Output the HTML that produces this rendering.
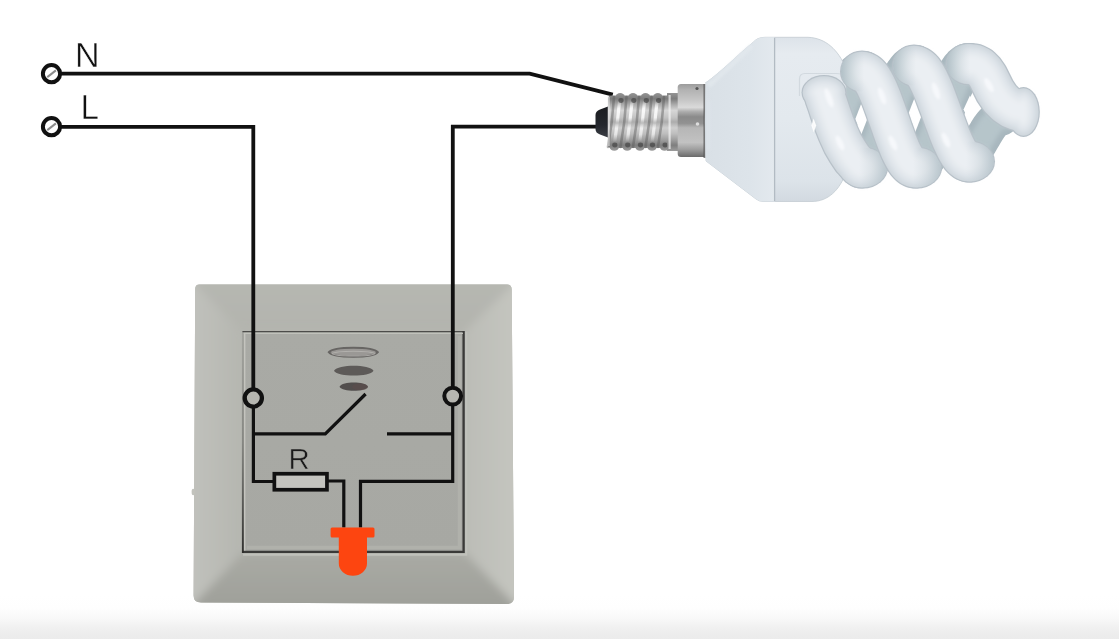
<!DOCTYPE html>
<html><head><meta charset="utf-8">
<style>
html,body{margin:0;padding:0;background:#fff;}
body{width:1119px;height:639px;overflow:hidden;position:relative;font-family:"Liberation Sans",sans-serif;}
svg{position:absolute;left:0;top:0;}
</style></head>
<body>
<svg width="1119" height="639" viewBox="0 0 1119 639">
<defs>
  <linearGradient id="floor" x1="0" y1="0" x2="0" y2="1">
    <stop offset="0" stop-color="#ffffff"/>
    <stop offset="0.3" stop-color="#fefefe"/>
    <stop offset="0.52" stop-color="#f9f9f9"/>
    <stop offset="0.72" stop-color="#f1f1f1"/>
    <stop offset="0.88" stop-color="#ededed"/>
    <stop offset="1" stop-color="#ebebeb"/>
  </linearGradient>
  <linearGradient id="bevTop" x1="0" y1="0" x2="0" y2="1">
    <stop offset="0" stop-color="#b7b8b2"/>
    <stop offset="1" stop-color="#b3b4ae"/>
  </linearGradient>
  <linearGradient id="bevRight" x1="0" y1="0" x2="1" y2="0">
    <stop offset="0" stop-color="#bcbdb7"/>
    <stop offset="1" stop-color="#c6c7c1"/>
  </linearGradient>
  <linearGradient id="bevBot" x1="0" y1="0" x2="0" y2="1">
    <stop offset="0" stop-color="#a9aaa4"/>
    <stop offset="1" stop-color="#9d9e98"/>
  </linearGradient>
  <linearGradient id="bevLeft" x1="0" y1="0" x2="1" y2="0">
    <stop offset="0" stop-color="#c3c4bf"/>
    <stop offset="1" stop-color="#b5b6b0"/>
  </linearGradient>
  <linearGradient id="face" x1="0" y1="0" x2="0" y2="1">
    <stop offset="0" stop-color="#a9aaa5"/>
    <stop offset="1" stop-color="#a7a8a3"/>
  </linearGradient>
  <clipPath id="plateClip"><path d="M199.5,284.4 L507.2,284.4 Q511.6,284.4 511.7,289.5 L514,596.5 Q514.1,604 506.5,604 L201,602.6 Q193.6,602.5 193.6,595.5 L195.2,288.8 Q195.3,284.4 199.5,284.4 Z"/></clipPath>
  <filter id="blP" filterUnits="userSpaceOnUse" x="150" y="250" width="420" height="400"><feGaussianBlur stdDeviation="4.5"/></filter>
  <linearGradient id="screw" x1="0" y1="0" x2="0" y2="1">
    <stop offset="0" stop-color="#949494"/>
    <stop offset="0.1" stop-color="#7c7c7c"/>
    <stop offset="0.2" stop-color="#ababab"/>
    <stop offset="0.3" stop-color="#d6d6d6"/>
    <stop offset="0.42" stop-color="#c4c4c4"/>
    <stop offset="0.5" stop-color="#acacac"/>
    <stop offset="0.6" stop-color="#cecece"/>
    <stop offset="0.7" stop-color="#bebebe"/>
    <stop offset="0.82" stop-color="#9a9a9a"/>
    <stop offset="0.9" stop-color="#7e7e7e"/>
    <stop offset="1" stop-color="#9c9c9c"/>
  </linearGradient>
  <linearGradient id="screwU" gradientUnits="userSpaceOnUse" x1="0" y1="93" x2="0" y2="151">
    <stop offset="0" stop-color="#949494"/>
    <stop offset="0.1" stop-color="#7c7c7c"/>
    <stop offset="0.2" stop-color="#ababab"/>
    <stop offset="0.3" stop-color="#d6d6d6"/>
    <stop offset="0.42" stop-color="#c4c4c4"/>
    <stop offset="0.5" stop-color="#acacac"/>
    <stop offset="0.6" stop-color="#cecece"/>
    <stop offset="0.7" stop-color="#bebebe"/>
    <stop offset="0.82" stop-color="#9a9a9a"/>
    <stop offset="0.9" stop-color="#7e7e7e"/>
    <stop offset="1" stop-color="#9c9c9c"/>
  </linearGradient>
  <linearGradient id="thrG" x1="0" y1="0" x2="1" y2="0">
    <stop offset="0" stop-color="#505050" stop-opacity="0.6"/>
    <stop offset="0.25" stop-color="#909090" stop-opacity="0.1"/>
    <stop offset="0.5" stop-color="#ffffff" stop-opacity="0.55"/>
    <stop offset="0.75" stop-color="#909090" stop-opacity="0.1"/>
    <stop offset="1" stop-color="#505050" stop-opacity="0.6"/>
  </linearGradient>
  <pattern id="thr" patternUnits="userSpaceOnUse" x="608.5" y="0" width="12.6" height="200" patternTransform="skewX(6)">
    <rect x="0" y="0" width="12.6" height="200" fill="url(#thrG)"/>
  </pattern>
  <linearGradient id="tipG" x1="0" y1="0" x2="0" y2="1">
    <stop offset="0" stop-color="#1a1c20"/>
    <stop offset="0.6" stop-color="#24272d"/>
    <stop offset="1" stop-color="#3a3d44"/>
  </linearGradient>
  <linearGradient id="collar" x1="0" y1="0" x2="0" y2="1">
    <stop offset="0" stop-color="#9c9c9c"/>
    <stop offset="0.08" stop-color="#b2b2b2"/>
    <stop offset="0.22" stop-color="#c6c6c6"/>
    <stop offset="0.32" stop-color="#dadada"/>
    <stop offset="0.38" stop-color="#acacac"/>
    <stop offset="0.45" stop-color="#8a8a8a"/>
    <stop offset="0.54" stop-color="#929292"/>
    <stop offset="0.6" stop-color="#b6b6b6"/>
    <stop offset="0.8" stop-color="#c2c2c2"/>
    <stop offset="0.9" stop-color="#9c9c9c"/>
    <stop offset="1" stop-color="#6a6a6a"/>
  </linearGradient>
  <linearGradient id="body" x1="0" y1="0" x2="0" y2="1">
    <stop offset="0" stop-color="#dde3e9"/>
    <stop offset="0.1" stop-color="#e6ebf0"/>
    <stop offset="0.5" stop-color="#e3e9ee"/>
    <stop offset="0.88" stop-color="#dce3e9"/>
    <stop offset="1" stop-color="#d2d9e0"/>
  </linearGradient>
  <linearGradient id="cone" x1="0" y1="0" x2="1" y2="0">
    <stop offset="0" stop-color="#d9e0e6"/>
    <stop offset="0.65" stop-color="#dde4ea"/>
    <stop offset="1" stop-color="#e3e9ee"/>
  </linearGradient>
  <linearGradient id="tube" gradientUnits="objectBoundingBox" x1="0" y1="0" x2="1" y2="0">
    <stop offset="0" stop-color="#d6dde3"/>
    <stop offset="0.35" stop-color="#f4f6f8"/>
    <stop offset="0.7" stop-color="#fafbfc"/>
    <stop offset="1" stop-color="#d8dfe5"/>
  </linearGradient>
  <filter id="bl2" filterUnits="userSpaceOnUse" x="600" y="0" width="519" height="260"><feGaussianBlur stdDeviation="2"/></filter>
  <clipPath id="clipA"><rect x="790" y="79" width="120" height="130"/></clipPath>
<!--HOV-->
<linearGradient id="ht0" gradientUnits="userSpaceOnUse" x1="888.0" y1="0" x2="859" y2="0"><stop offset="0" stop-color="#b4c2c9" stop-opacity="0.8"/><stop offset="1" stop-color="#c8d2d8" stop-opacity="0"/></linearGradient>
<linearGradient id="ht1" gradientUnits="userSpaceOnUse" x1="840.0" y1="0" x2="864" y2="0"><stop offset="0" stop-color="#aebdc4" stop-opacity="0.95"/><stop offset="0.45" stop-color="#bccacf" stop-opacity="0.55"/><stop offset="1" stop-color="#c8d2d8" stop-opacity="0"/></linearGradient>
<linearGradient id="ht2" gradientUnits="userSpaceOnUse" x1="942.0" y1="0" x2="913" y2="0"><stop offset="0" stop-color="#b4c2c9" stop-opacity="0.8"/><stop offset="1" stop-color="#c8d2d8" stop-opacity="0"/></linearGradient>
<linearGradient id="ht3" gradientUnits="userSpaceOnUse" x1="892.0" y1="0" x2="916" y2="0"><stop offset="0" stop-color="#aebdc4" stop-opacity="0.95"/><stop offset="0.45" stop-color="#bccacf" stop-opacity="0.55"/><stop offset="1" stop-color="#c8d2d8" stop-opacity="0"/></linearGradient>
<linearGradient id="ht4" gradientUnits="userSpaceOnUse" x1="995.0" y1="0" x2="966" y2="0"><stop offset="0" stop-color="#b4c2c9" stop-opacity="0.8"/><stop offset="1" stop-color="#c8d2d8" stop-opacity="0"/></linearGradient>
<linearGradient id="ht5" gradientUnits="userSpaceOnUse" x1="945.5" y1="0" x2="970" y2="0"><stop offset="0" stop-color="#aebdc4" stop-opacity="0.95"/><stop offset="0.45" stop-color="#bccacf" stop-opacity="0.55"/><stop offset="1" stop-color="#c8d2d8" stop-opacity="0"/></linearGradient>
<!--/HOV-->
  <filter id="bl1" filterUnits="userSpaceOnUse" x="600" y="0" width="519" height="260"><feGaussianBlur stdDeviation="1.2"/></filter>
  <filter id="bl06" filterUnits="userSpaceOnUse" x="590" y="80" width="130" height="90"><feGaussianBlur stdDeviation="0.7"/></filter>
  <linearGradient id="hlG" gradientUnits="userSpaceOnUse" x1="0" y1="100" x2="0" y2="142">
    <stop offset="0" stop-color="#fff" stop-opacity="0"/>
    <stop offset="0.2" stop-color="#fff" stop-opacity="0.85"/>
    <stop offset="0.42" stop-color="#fff" stop-opacity="0.8"/>
    <stop offset="0.55" stop-color="#fff" stop-opacity="0.15"/>
    <stop offset="0.68" stop-color="#fff" stop-opacity="0.7"/>
    <stop offset="0.82" stop-color="#fff" stop-opacity="0.6"/>
    <stop offset="1" stop-color="#fff" stop-opacity="0"/>
  </linearGradient>
  <filter id="noop" filterUnits="userSpaceOnUse" x="0" y="0" width="1119" height="639"><feOffset dx="0" dy="0"/></filter>
  <linearGradient id="lbord" x1="0" y1="0" x2="0" y2="1">
    <stop offset="0" stop-color="#3a3a38" stop-opacity="0.1"/>
    <stop offset="0.5" stop-color="#3a3a38" stop-opacity="0.35"/>
    <stop offset="1" stop-color="#2a2a28" stop-opacity="0.95"/>
  </linearGradient>
</defs>

<!-- floor gradient -->
<rect x="0" y="595" width="1119" height="44" fill="url(#floor)"/>

<!-- ===== SWITCH PLATE ===== -->
<g>
  <path d="M199.5,284.4 L507.2,284.4 Q511.6,284.4 511.7,289.5 L514,596.5 Q514.1,604 506.5,604 L201,602.6 Q193.6,602.5 193.6,595.5 L195.2,288.8 Q195.3,284.4 199.5,284.4 Z" fill="#b6b7b1"/>
  <g clip-path="url(#plateClip)"><g filter="url(#blP)">
  <polygon points="180,270 528,270 465,331 242.5,331" fill="url(#bevTop)"/>
  <polygon points="528,270 528,618 465,553 465,331" fill="url(#bevRight)"/>
  <polygon points="180,618 528,618 465,553 242.5,553" fill="url(#bevBot)"/>
  <polygon points="180,270 180,618 242.5,553 242.5,331" fill="url(#bevLeft)"/>
  </g></g>
  <rect x="242.5" y="331" width="222.5" height="222" fill="url(#face)"/>
  <path d="M466.3,332 V554.8 H243" fill="none" stroke="#c0c1bb" stroke-width="2"/>
  <path d="M242.5,331.6 H463.6" fill="none" stroke="#4c4c4a" stroke-width="1.4"/>
  <path d="M463.6,331 V551.8 H242.5" fill="none" stroke="#3a3a38" stroke-width="2.3"/>
  <path d="M459.5,336 V547.5 H247" fill="none" stroke="#b0b1ab" stroke-width="3.5"/>
  <path d="M243.5,333.4 H463" fill="none" stroke="#c0c1bb" stroke-width="1.1"/>
  <path d="M244.6,333 V550.5" stroke="#c4c4be" stroke-width="1.6"/>
  <rect x="241.9" y="331" width="1.9" height="222" fill="url(#lbord)"/>
</g>

<ellipse cx="193.2" cy="492" rx="1.6" ry="3.2" fill="#c2c3bd"/>
<!-- ===== WIRES ===== -->
<g fill="none" stroke="#111" stroke-width="3.8" stroke-linejoin="miter">
  <path d="M61,73.6 H529.7 L612.8,94.6"/>
  <path d="M61,126.8 H253.3 V389"/>
  <path d="M596,126.7 H452.8 V386.5"/>
</g>
<g fill="none" stroke="#111" stroke-width="3.2" stroke-linejoin="miter">
  <path d="M253.4,406.5 V481.5 H273"/>
  <path d="M452.7,404 V481.3 H360.5 V527.5"/>
  <path d="M328,481 H343.8 V527.5"/>
  <path d="M253.4,433.8 H325.3 L365.6,394"/>
  <path d="M387,433.8 H452.7"/>
</g>

<!-- terminals on plate -->
<circle cx="253.3" cy="398" r="8.6" fill="#b6b6b0" stroke="#111" stroke-width="4.3"/>
<circle cx="452.7" cy="396.1" r="8.4" fill="#b6b6b0" stroke="#111" stroke-width="4"/>

<!-- resistor -->
<rect x="274.35" y="473.75" width="52.6" height="16" fill="#c4c4bf" stroke="#111" stroke-width="3.7"/>
<text filter="url(#noop)" x="288.5" y="468.6" font-family="Liberation Sans" font-size="29.4" fill="#1a1a1a" stroke="#a8a9a4" stroke-width="0.5">R</text>

<!-- ellipses -->
<path d="M328.8,352.2 C333.7,346.1 372.9,346.1 377.8,352.2 C372.9,358.3 333.7,358.3 328.8,352.2 Z" fill="#9a9895" stroke="#676563" stroke-width="2"/>
<path d="M332,353.6 C336.3,350.4 370.7,350.4 375,353.6 C370.7,356.8 336.3,356.8 332,353.6 Z" fill="none" stroke="#b8b6b3" stroke-width="1.1" opacity="0.8"/>
<path d="M334,370.7 C337.9,364.2 369.6,364.2 373.5,370.7 C369.6,377.2 337.9,377.2 334,370.7 Z" fill="#5d5a58"/>
<path d="M339.5,386.7 C342.4,381.2 365.1,381.2 368,386.7 C365.1,392.2 342.4,392.2 339.5,386.7 Z" fill="#524e4d"/>
<path d="M352,386.9 C353.6,382.5 366.4,382.5 368,386.9 C366.4,391.3 353.6,391.3 352,386.9 Z" fill="#5e4c4c" opacity="0.6"/>
<!-- LED -->
<path d="M332,527.5 H373 Q374.5,527.5 374.5,529 V536 Q374.5,537.5 373,537.5 H367 V563.5 A14.1 12.2 0 0 1 338.8,563.5 V537.5 H332 Q330.6,537.5 330.6,536 V529 Q330.6,527.5 332,527.5 Z" fill="#fd4510"/>

<!-- supply terminals -->
<circle cx="51.5" cy="73.7" r="8.6" fill="#fff" stroke="#111" stroke-width="4"/>
<line x1="47.3" y1="77.1" x2="55.9" y2="70.4" stroke="#8c8c8c" stroke-width="2"/>
<circle cx="51.5" cy="126.7" r="8.6" fill="#fff" stroke="#111" stroke-width="4"/>
<line x1="47.3" y1="130.1" x2="55.9" y2="123.4" stroke="#8c8c8c" stroke-width="2"/>

<text filter="url(#noop)" x="75" y="66.7" font-family="Liberation Sans" font-size="35.6" fill="#111" stroke="#fff" stroke-width="0.5" transform="translate(75 0) scale(0.96 1) translate(-75 0)">N</text>
<text filter="url(#noop)" x="80.6" y="118.6" font-family="Liberation Sans" font-size="35" fill="#111" stroke="#fff" stroke-width="0.5" transform="translate(80.6 0) scale(0.95 1) translate(-80.6 0)">L</text>

<!-- ===== BULB ===== -->
<g>
  <!-- black tip -->
  <path d="M608,106.5 L600,109.5 Q595.5,111 595.5,115 V129 Q595.5,133 600,134.5 L608,137.5 Z" fill="url(#tipG)"/>
  <!-- screw -->
  <g>
    <path d="M608,99 Q608,95.5 611,95.5 H668 V148 H611 Q608,148 608,145 Z" fill="url(#screwU)"/>
    <g fill="url(#screwU)">
      <ellipse cx="620.2" cy="97" rx="4.6" ry="3.9"/>
      <ellipse cx="633" cy="97" rx="4.6" ry="3.9"/>
      <ellipse cx="645.5" cy="97" rx="4.6" ry="3.9"/>
      <ellipse cx="657.8" cy="97" rx="4.6" ry="3.9"/>
      <ellipse cx="614.3" cy="147" rx="4.6" ry="3.8"/>
      <ellipse cx="627.2" cy="147" rx="4.6" ry="3.8"/>
      <ellipse cx="640" cy="147" rx="4.6" ry="3.8"/>
      <ellipse cx="652" cy="147" rx="4.6" ry="3.8"/>
      <ellipse cx="664.6" cy="147" rx="4.6" ry="3.8"/>
    </g>
    <g stroke-linecap="round" fill="none">
      <path d="M614.0,97 Q612.5,122 608.0,147" stroke="#5c5c5c" stroke-width="2.6" opacity="0.45"/>
      <path d="M626.5,97 Q625.0,122 620.5,147" stroke="#5c5c5c" stroke-width="2.6" opacity="0.45"/>
      <path d="M619.7,100 Q617.7,121 614.7,142" stroke="url(#hlG)" stroke-width="3.2" filter="url(#bl06)"/>
      <path d="M639.0,97 Q637.5,122 633.0,147" stroke="#5c5c5c" stroke-width="2.6" opacity="0.45"/>
      <path d="M632.2,100 Q630.2,121 627.2,142" stroke="url(#hlG)" stroke-width="3.2" filter="url(#bl06)"/>
      <path d="M651.5,97 Q650.0,122 645.5,147" stroke="#5c5c5c" stroke-width="2.6" opacity="0.45"/>
      <path d="M644.7,100 Q642.7,121 639.7,142" stroke="url(#hlG)" stroke-width="3.2" filter="url(#bl06)"/>
      <path d="M664.0,97 Q662.5,122 658.0,147" stroke="#5c5c5c" stroke-width="2.6" opacity="0.45"/>
      <path d="M657.2,100 Q655.2,121 652.2,142" stroke="url(#hlG)" stroke-width="3.2" filter="url(#bl06)"/>
    </g>
    <g fill="#3a3a3a" opacity="0.6" filter="url(#bl06)">
      <ellipse cx="621.0" cy="100.5" rx="2.6" ry="2.4"/>
      <ellipse cx="633.8" cy="100.5" rx="2.6" ry="2.4"/>
      <ellipse cx="646.3" cy="100.5" rx="2.6" ry="2.4"/>
      <ellipse cx="658.6" cy="100.5" rx="2.6" ry="2.4"/>
      <ellipse cx="614.8" cy="145" rx="2.6" ry="2.4"/>
      <ellipse cx="627.7" cy="145" rx="2.6" ry="2.4"/>
      <ellipse cx="640.5" cy="145" rx="2.6" ry="2.4"/>
      <ellipse cx="652.5" cy="145" rx="2.6" ry="2.4"/>
      <ellipse cx="665.1" cy="145" rx="2.6" ry="2.4"/>
    </g>
    <rect x="607.6" y="97" width="2.2" height="49" fill="#e8e8e8" opacity="0.6"/>
  </g>
  <!-- neck -->
  <rect x="667" y="93" width="11.5" height="58" fill="url(#screwU)"/>
  <rect x="668.5" y="95" width="2.2" height="54" fill="#f2f2f2" opacity="0.7"/>
  <!-- collar -->
  <path d="M681,84 H704.5 V157 H681 Q677.7,157 677.7,153.5 V87.5 Q677.7,84 681,84 Z" fill="url(#collar)"/>
  <circle cx="697" cy="88.5" r="1.6" fill="#555"/>
  <circle cx="697.5" cy="124" r="1.8" fill="#ddd"/>
  <rect x="703.5" y="84" width="2" height="74" fill="#4a4a4a" opacity="0.7"/>
<!--SPB-->
<g fill="none" stroke-linecap="round" stroke-linejoin="round">
<path d="M812.0,166.0 L813.8,165.7 L815.6,164.8 L817.5,163.4 L819.3,161.3 L821.1,158.8 L822.9,155.7 L824.8,152.2 L826.6,148.3 L828.4,144.0 L830.2,139.4 L832.0,134.5 L833.9,129.5 L835.7,124.3 L837.5,119.0 L839.3,113.7 L841.1,108.5 L843.0,103.5 L844.8,98.6 L846.6,94.0 L848.4,89.7 L850.2,85.8 L852.1,82.3 L853.9,79.2 L855.7,76.7 L857.5,74.6 L859.4,73.2 L861.2,72.3 L863.0,72.0" stroke="#a8b7be" stroke-width="42"/>
<path d="M812.0,166.0 L813.8,165.7 L815.6,164.8 L817.5,163.4 L819.3,161.3 L821.1,158.8 L822.9,155.7 L824.8,152.2 L826.6,148.3 L828.4,144.0 L830.2,139.4 L832.0,134.5 L833.9,129.5 L835.7,124.3 L837.5,119.0 L839.3,113.7 L841.1,108.5 L843.0,103.5 L844.8,98.6 L846.6,94.0 L848.4,89.7 L850.2,85.8 L852.1,82.3 L853.9,79.2 L855.7,76.7 L857.5,74.6 L859.4,73.2 L861.2,72.3 L863.0,72.0" stroke="#b6c5ca" stroke-width="30" filter="url(#bl2)"/>
<path d="M861.0,166.0 L862.9,165.7 L864.9,164.7 L866.8,163.2 L868.7,161.0 L870.6,158.3 L872.6,155.1 L874.5,151.4 L876.4,147.2 L878.4,142.6 L880.3,137.7 L882.2,132.5 L884.1,127.1 L886.1,121.6 L888.0,116.0 L889.9,110.4 L891.9,104.9 L893.8,99.5 L895.7,94.3 L897.6,89.4 L899.6,84.8 L901.5,80.6 L903.4,76.9 L905.4,73.7 L907.3,71.0 L909.2,68.8 L911.1,67.3 L913.1,66.3 L915.0,66.0" stroke="#a8b7be" stroke-width="42"/>
<path d="M861.0,166.0 L862.9,165.7 L864.9,164.7 L866.8,163.2 L868.7,161.0 L870.6,158.3 L872.6,155.1 L874.5,151.4 L876.4,147.2 L878.4,142.6 L880.3,137.7 L882.2,132.5 L884.1,127.1 L886.1,121.6 L888.0,116.0 L889.9,110.4 L891.9,104.9 L893.8,99.5 L895.7,94.3 L897.6,89.4 L899.6,84.8 L901.5,80.6 L903.4,76.9 L905.4,73.7 L907.3,71.0 L909.2,68.8 L911.1,67.3 L913.1,66.3 L915.0,66.0" stroke="#b6c5ca" stroke-width="30" filter="url(#bl2)"/>
<path d="M915.0,166.0 L916.9,165.7 L918.9,164.7 L920.8,163.1 L922.7,160.9 L924.6,158.2 L926.6,154.9 L928.5,151.1 L930.4,146.8 L932.4,142.1 L934.3,137.1 L936.2,131.8 L938.1,126.3 L940.1,120.7 L942.0,115.0 L943.9,109.3 L945.9,103.7 L947.8,98.2 L949.7,92.9 L951.6,87.9 L953.6,83.2 L955.5,78.9 L957.4,75.1 L959.4,71.8 L961.3,69.1 L963.2,66.9 L965.1,65.3 L967.1,64.3 L969.0,64.0" stroke="#a8b7be" stroke-width="42"/>
<path d="M915.0,166.0 L916.9,165.7 L918.9,164.7 L920.8,163.1 L922.7,160.9 L924.6,158.2 L926.6,154.9 L928.5,151.1 L930.4,146.8 L932.4,142.1 L934.3,137.1 L936.2,131.8 L938.1,126.3 L940.1,120.7 L942.0,115.0 L943.9,109.3 L945.9,103.7 L947.8,98.2 L949.7,92.9 L951.6,87.9 L953.6,83.2 L955.5,78.9 L957.4,75.1 L959.4,71.8 L961.3,69.1 L963.2,66.9 L965.1,65.3 L967.1,64.3 L969.0,64.0" stroke="#b6c5ca" stroke-width="30" filter="url(#bl2)"/>
<path d="M963.0,160.0 L964.4,159.9 L965.7,159.5 L967.1,158.8 L968.4,157.9 L969.8,156.8 L971.1,155.4 L972.5,153.8 L973.9,152.1 L975.2,150.2 L976.6,148.1 L977.9,145.9 L979.3,143.7 L980.6,141.4 L982.0,139.0 L983.4,136.6 L984.7,134.3 L986.1,132.1 L987.4,129.9 L988.8,127.8 L990.1,125.9 L991.5,124.2 L992.9,122.6 L994.2,121.2 L995.6,120.1 L996.9,119.2 L998.3,118.5 L999.6,118.1 L1001.0,118.0" stroke="#a8b7be" stroke-width="36"/>
<path d="M963.0,160.0 L964.4,159.9 L965.7,159.5 L967.1,158.8 L968.4,157.9 L969.8,156.8 L971.1,155.4 L972.5,153.8 L973.9,152.1 L975.2,150.2 L976.6,148.1 L977.9,145.9 L979.3,143.7 L980.6,141.4 L982.0,139.0 L983.4,136.6 L984.7,134.3 L986.1,132.1 L987.4,129.9 L988.8,127.8 L990.1,125.9 L991.5,124.2 L992.9,122.6 L994.2,121.2 L995.6,120.1 L996.9,119.2 L998.3,118.5 L999.6,118.1 L1001.0,118.0" stroke="#b6c5ca" stroke-width="24" filter="url(#bl2)"/>
</g>
<polygon points="861.3,103.5 867.3,119 861.3,134.5 855.3,119" fill="#ffffff"/>
<polygon points="914.5,98 921.5,116 914.5,134 907.5,116" fill="#ffffff"/>
<polygon points="970,95.5 976.5,109.5 970,123.5 963.5,109.5" fill="#ffffff"/>
<!--/SPB-->
  <!-- body -->
  <path d="M706,82.5 C712,78.5 722,70 733,60 C741,52.5 748,46.5 753,42.5 Q757,37.3 765,37.3 L808,37.3 C826,38 838,50 846,68 L846,172 C840,190 828,201.5 812,201.5 L764,201.5 Q759,201.5 756,199 L706,161 Q704.6,121.5 706,82 Z" fill="url(#body)" stroke="#c3cbd2" stroke-width="0.8"/>
  <path d="M706,82.5 C712,78.5 722,70 733,60 C741,52.5 748,46.5 753,42.5 Q757,37.3 765,37.3 L774.5,37.3 L774.5,201.5 L764,201.5 Q759,201.5 756,199 L706,161 Q704.6,121.5 706,82 Z" fill="url(#cone)"/>
  <path d="M708.5,86 C714,81 724,72 734,62.5 C741,56 747,50 752,46" fill="none" stroke="#e3e9ee" stroke-width="5" opacity="0.7" filter="url(#bl1)"/>
  <path d="M708.5,100 V150" fill="none" stroke="#e0e6eb" stroke-width="3" opacity="0.6" filter="url(#bl1)"/>
  <line x1="774.6" y1="37.8" x2="774.6" y2="201" stroke="#b2bbc3" stroke-width="1.3"/>
  <path d="M799.5,96 V79 Q799.5,73.5 805,73.5 L836,73.5 Q842,73.5 845,76" fill="none" stroke="#d2d9df" stroke-width="1.2"/>
<!--SPF-->
<g>
<path d="M825.0,97.0 L827.5,104.0 L830.5,113.0 L834.0,123.0 L838.0,133.0 L842.5,143.0 L847.5,151.5 L852.5,159.0 L857.0,164.0 L861.0,167.5" fill="none" stroke="#b2bcc4" stroke-width="42" stroke-linecap="round" stroke-linejoin="round"/>
<ellipse cx="824" cy="92.5" rx="22.5" ry="17.5" fill="#b2bcc4"/>
<ellipse cx="863" cy="167.5" rx="25.0" ry="21.0" fill="#b2bcc4"/>
<path d="M825.0,97.0 L827.5,104.0 L830.5,113.0 L834.0,123.0 L838.0,133.0 L842.5,143.0 L847.5,151.5 L852.5,159.0 L857.0,164.0 L861.0,167.5" fill="none" stroke="#cdd5db" stroke-width="39.5" stroke-linecap="round" stroke-linejoin="round"/>
<ellipse cx="824" cy="92.5" rx="21.25" ry="16.25" fill="#cdd5db"/>
<ellipse cx="863" cy="167.5" rx="23.75" ry="19.75" fill="#cdd5db"/>
<g filter="url(#bl2)">
<path d="M825.0,97.0 L827.5,104.0 L830.5,113.0 L834.0,123.0 L838.0,133.0 L842.5,143.0 L847.5,151.5 L852.5,159.0 L857.0,164.0 L861.0,167.5" fill="none" stroke="#d9e0e6" stroke-width="36" stroke-linecap="round" stroke-linejoin="round"/>
<ellipse cx="824" cy="92.5" rx="19.5" ry="14.5" fill="#d9e0e6"/>
<ellipse cx="863" cy="167.5" rx="22.0" ry="18.0" fill="#d9e0e6"/>
<path d="M825.0,97.0 L827.5,104.0 L830.5,113.0 L834.0,123.0 L838.0,133.0 L842.5,143.0 L847.5,151.5 L852.5,159.0 L857.0,164.0 L861.0,167.5" fill="none" stroke="#e3e8ed" stroke-width="28" stroke-linecap="round" stroke-linejoin="round"/>
<ellipse cx="824" cy="92.5" rx="15.5" ry="10.5" fill="#e3e8ed"/>
<ellipse cx="863" cy="167.5" rx="18.0" ry="14.0" fill="#e3e8ed"/>
<path d="M825.0,97.0 L827.5,104.0 L830.5,113.0 L834.0,123.0 L838.0,133.0 L842.5,143.0 L847.5,151.5 L852.5,159.0 L857.0,164.0 L861.0,167.5" fill="none" stroke="#ebeff3" stroke-width="18" stroke-linecap="round" stroke-linejoin="round"/>
<ellipse cx="824" cy="92.5" rx="10.5" ry="5.5" fill="#ebeff3"/>
<ellipse cx="863" cy="167.5" rx="13.0" ry="9.0" fill="#ebeff3"/>
</g></g>
<ellipse cx="863" cy="167.5" rx="24.0" ry="20.0" fill="url(#ht0)"/>
<g>
<path d="M863.0,72.0 L864.9,72.3 L866.7,73.2 L868.6,74.7 L870.4,76.7 L872.3,79.3 L874.1,82.4 L876.0,86.0 L877.9,90.0 L879.7,94.3 L881.6,99.0 L883.4,104.0 L885.3,109.1 L887.1,114.4 L889.0,119.8 L890.9,125.1 L892.7,130.4 L894.6,135.5 L896.4,140.5 L898.3,145.2 L900.1,149.5 L902.0,153.5 L903.9,157.1 L905.7,160.2 L907.6,162.8 L909.4,164.8 L911.3,166.3 L913.1,167.2 L915.0,167.5" fill="none" stroke="#b2bcc4" stroke-width="42" stroke-linecap="round" stroke-linejoin="round"/>
<ellipse cx="862" cy="71.5" rx="22.0" ry="21.0" fill="#b2bcc4"/>
<ellipse cx="917" cy="167.5" rx="25.0" ry="21.0" fill="#b2bcc4"/>
<path d="M863.0,72.0 L864.9,72.3 L866.7,73.2 L868.6,74.7 L870.4,76.7 L872.3,79.3 L874.1,82.4 L876.0,86.0 L877.9,90.0 L879.7,94.3 L881.6,99.0 L883.4,104.0 L885.3,109.1 L887.1,114.4 L889.0,119.8 L890.9,125.1 L892.7,130.4 L894.6,135.5 L896.4,140.5 L898.3,145.2 L900.1,149.5 L902.0,153.5 L903.9,157.1 L905.7,160.2 L907.6,162.8 L909.4,164.8 L911.3,166.3 L913.1,167.2 L915.0,167.5" fill="none" stroke="#cdd5db" stroke-width="39.5" stroke-linecap="round" stroke-linejoin="round"/>
<ellipse cx="862" cy="71.5" rx="20.75" ry="19.75" fill="#cdd5db"/>
<ellipse cx="917" cy="167.5" rx="23.75" ry="19.75" fill="#cdd5db"/>
<g filter="url(#bl2)">
<path d="M863.0,72.0 L864.9,72.3 L866.7,73.2 L868.6,74.7 L870.4,76.7 L872.3,79.3 L874.1,82.4 L876.0,86.0 L877.9,90.0 L879.7,94.3 L881.6,99.0 L883.4,104.0 L885.3,109.1 L887.1,114.4 L889.0,119.8 L890.9,125.1 L892.7,130.4 L894.6,135.5 L896.4,140.5 L898.3,145.2 L900.1,149.5 L902.0,153.5 L903.9,157.1 L905.7,160.2 L907.6,162.8 L909.4,164.8 L911.3,166.3 L913.1,167.2 L915.0,167.5" fill="none" stroke="#d9e0e6" stroke-width="36" stroke-linecap="round" stroke-linejoin="round"/>
<ellipse cx="862" cy="71.5" rx="19.0" ry="18.0" fill="#d9e0e6"/>
<ellipse cx="917" cy="167.5" rx="22.0" ry="18.0" fill="#d9e0e6"/>
<path d="M863.0,72.0 L864.9,72.3 L866.7,73.2 L868.6,74.7 L870.4,76.7 L872.3,79.3 L874.1,82.4 L876.0,86.0 L877.9,90.0 L879.7,94.3 L881.6,99.0 L883.4,104.0 L885.3,109.1 L887.1,114.4 L889.0,119.8 L890.9,125.1 L892.7,130.4 L894.6,135.5 L896.4,140.5 L898.3,145.2 L900.1,149.5 L902.0,153.5 L903.9,157.1 L905.7,160.2 L907.6,162.8 L909.4,164.8 L911.3,166.3 L913.1,167.2 L915.0,167.5" fill="none" stroke="#e3e8ed" stroke-width="28" stroke-linecap="round" stroke-linejoin="round"/>
<ellipse cx="862" cy="71.5" rx="15.0" ry="14.0" fill="#e3e8ed"/>
<ellipse cx="917" cy="167.5" rx="18.0" ry="14.0" fill="#e3e8ed"/>
<path d="M863.0,72.0 L864.9,72.3 L866.7,73.2 L868.6,74.7 L870.4,76.7 L872.3,79.3 L874.1,82.4 L876.0,86.0 L877.9,90.0 L879.7,94.3 L881.6,99.0 L883.4,104.0 L885.3,109.1 L887.1,114.4 L889.0,119.8 L890.9,125.1 L892.7,130.4 L894.6,135.5 L896.4,140.5 L898.3,145.2 L900.1,149.5 L902.0,153.5 L903.9,157.1 L905.7,160.2 L907.6,162.8 L909.4,164.8 L911.3,166.3 L913.1,167.2 L915.0,167.5" fill="none" stroke="#ebeff3" stroke-width="18" stroke-linecap="round" stroke-linejoin="round"/>
<ellipse cx="862" cy="71.5" rx="10.0" ry="9.0" fill="#ebeff3"/>
<ellipse cx="917" cy="167.5" rx="13.0" ry="9.0" fill="#ebeff3"/>
</g></g>
<ellipse cx="862" cy="71.5" rx="21.0" ry="20.0" fill="url(#ht1)"/>
<ellipse cx="917" cy="167.5" rx="24.0" ry="20.0" fill="url(#ht2)"/>
<g>
<path d="M915.0,66.0 L916.9,66.3 L918.9,67.2 L920.8,68.7 L922.7,70.7 L924.6,73.3 L926.6,76.4 L928.5,80.0 L930.4,84.0 L932.4,88.3 L934.3,93.0 L936.2,98.0 L938.1,103.1 L940.1,108.4 L942.0,113.8 L943.9,119.1 L945.9,124.4 L947.8,129.5 L949.7,134.5 L951.6,139.2 L953.6,143.5 L955.5,147.5 L957.4,151.1 L959.4,154.2 L961.3,156.8 L963.2,158.8 L965.1,160.3 L967.1,161.2 L969.0,161.5" fill="none" stroke="#b2bcc4" stroke-width="42" stroke-linecap="round" stroke-linejoin="round"/>
<ellipse cx="914" cy="65.5" rx="22.0" ry="21.0" fill="#b2bcc4"/>
<ellipse cx="970" cy="161.5" rx="25.0" ry="21.0" fill="#b2bcc4"/>
<path d="M915.0,66.0 L916.9,66.3 L918.9,67.2 L920.8,68.7 L922.7,70.7 L924.6,73.3 L926.6,76.4 L928.5,80.0 L930.4,84.0 L932.4,88.3 L934.3,93.0 L936.2,98.0 L938.1,103.1 L940.1,108.4 L942.0,113.8 L943.9,119.1 L945.9,124.4 L947.8,129.5 L949.7,134.5 L951.6,139.2 L953.6,143.5 L955.5,147.5 L957.4,151.1 L959.4,154.2 L961.3,156.8 L963.2,158.8 L965.1,160.3 L967.1,161.2 L969.0,161.5" fill="none" stroke="#cdd5db" stroke-width="39.5" stroke-linecap="round" stroke-linejoin="round"/>
<ellipse cx="914" cy="65.5" rx="20.75" ry="19.75" fill="#cdd5db"/>
<ellipse cx="970" cy="161.5" rx="23.75" ry="19.75" fill="#cdd5db"/>
<g filter="url(#bl2)">
<path d="M915.0,66.0 L916.9,66.3 L918.9,67.2 L920.8,68.7 L922.7,70.7 L924.6,73.3 L926.6,76.4 L928.5,80.0 L930.4,84.0 L932.4,88.3 L934.3,93.0 L936.2,98.0 L938.1,103.1 L940.1,108.4 L942.0,113.8 L943.9,119.1 L945.9,124.4 L947.8,129.5 L949.7,134.5 L951.6,139.2 L953.6,143.5 L955.5,147.5 L957.4,151.1 L959.4,154.2 L961.3,156.8 L963.2,158.8 L965.1,160.3 L967.1,161.2 L969.0,161.5" fill="none" stroke="#d9e0e6" stroke-width="36" stroke-linecap="round" stroke-linejoin="round"/>
<ellipse cx="914" cy="65.5" rx="19.0" ry="18.0" fill="#d9e0e6"/>
<ellipse cx="970" cy="161.5" rx="22.0" ry="18.0" fill="#d9e0e6"/>
<path d="M915.0,66.0 L916.9,66.3 L918.9,67.2 L920.8,68.7 L922.7,70.7 L924.6,73.3 L926.6,76.4 L928.5,80.0 L930.4,84.0 L932.4,88.3 L934.3,93.0 L936.2,98.0 L938.1,103.1 L940.1,108.4 L942.0,113.8 L943.9,119.1 L945.9,124.4 L947.8,129.5 L949.7,134.5 L951.6,139.2 L953.6,143.5 L955.5,147.5 L957.4,151.1 L959.4,154.2 L961.3,156.8 L963.2,158.8 L965.1,160.3 L967.1,161.2 L969.0,161.5" fill="none" stroke="#e3e8ed" stroke-width="28" stroke-linecap="round" stroke-linejoin="round"/>
<ellipse cx="914" cy="65.5" rx="15.0" ry="14.0" fill="#e3e8ed"/>
<ellipse cx="970" cy="161.5" rx="18.0" ry="14.0" fill="#e3e8ed"/>
<path d="M915.0,66.0 L916.9,66.3 L918.9,67.2 L920.8,68.7 L922.7,70.7 L924.6,73.3 L926.6,76.4 L928.5,80.0 L930.4,84.0 L932.4,88.3 L934.3,93.0 L936.2,98.0 L938.1,103.1 L940.1,108.4 L942.0,113.8 L943.9,119.1 L945.9,124.4 L947.8,129.5 L949.7,134.5 L951.6,139.2 L953.6,143.5 L955.5,147.5 L957.4,151.1 L959.4,154.2 L961.3,156.8 L963.2,158.8 L965.1,160.3 L967.1,161.2 L969.0,161.5" fill="none" stroke="#ebeff3" stroke-width="18" stroke-linecap="round" stroke-linejoin="round"/>
<ellipse cx="914" cy="65.5" rx="10.0" ry="9.0" fill="#ebeff3"/>
<ellipse cx="970" cy="161.5" rx="13.0" ry="9.0" fill="#ebeff3"/>
</g></g>
<ellipse cx="914" cy="65.5" rx="21.0" ry="20.0" fill="url(#ht3)"/>
<ellipse cx="970" cy="161.5" rx="24.0" ry="20.0" fill="url(#ht4)"/>
<g>
<path d="M969.0,64.0 L975.0,64.5 L980.0,67.0 L984.0,71.0 L987.5,76.0 L991.0,83.0 L995.0,91.0 L1000.0,98.5 L1006.0,104.5 L1012.0,108.5 L1017.0,110.5" fill="none" stroke="#b2bcc4" stroke-width="42" stroke-linecap="round" stroke-linejoin="round"/>
<ellipse cx="968" cy="64" rx="22.5" ry="21.0" fill="#b2bcc4"/>
<ellipse cx="1023.5" cy="112" rx="16.3" ry="25" fill="#b2bcc4"/>
<path d="M969.0,64.0 L975.0,64.5 L980.0,67.0 L984.0,71.0 L987.5,76.0 L991.0,83.0 L995.0,91.0 L1000.0,98.5 L1006.0,104.5 L1012.0,108.5 L1017.0,110.5" fill="none" stroke="#cdd5db" stroke-width="39.5" stroke-linecap="round" stroke-linejoin="round"/>
<ellipse cx="968" cy="64" rx="21.25" ry="19.75" fill="#cdd5db"/>
<ellipse cx="1023.5" cy="112" rx="15.05" ry="23.75" fill="#cdd5db"/>
<g filter="url(#bl2)">
<path d="M969.0,64.0 L975.0,64.5 L980.0,67.0 L984.0,71.0 L987.5,76.0 L991.0,83.0 L995.0,91.0 L1000.0,98.5 L1006.0,104.5 L1012.0,108.5 L1017.0,110.5" fill="none" stroke="#d9e0e6" stroke-width="36" stroke-linecap="round" stroke-linejoin="round"/>
<ellipse cx="968" cy="64" rx="19.5" ry="18.0" fill="#d9e0e6"/>
<ellipse cx="1023.5" cy="112" rx="13.3" ry="22" fill="#d9e0e6"/>
<path d="M969.0,64.0 L975.0,64.5 L980.0,67.0 L984.0,71.0 L987.5,76.0 L991.0,83.0 L995.0,91.0 L1000.0,98.5 L1006.0,104.5 L1012.0,108.5 L1017.0,110.5" fill="none" stroke="#e3e8ed" stroke-width="28" stroke-linecap="round" stroke-linejoin="round"/>
<ellipse cx="968" cy="64" rx="15.5" ry="14.0" fill="#e3e8ed"/>
<ellipse cx="1023.5" cy="112" rx="9.3" ry="18" fill="#e3e8ed"/>
<path d="M969.0,64.0 L975.0,64.5 L980.0,67.0 L984.0,71.0 L987.5,76.0 L991.0,83.0 L995.0,91.0 L1000.0,98.5 L1006.0,104.5 L1012.0,108.5 L1017.0,110.5" fill="none" stroke="#ebeff3" stroke-width="18" stroke-linecap="round" stroke-linejoin="round"/>
<ellipse cx="968" cy="64" rx="10.5" ry="9.0" fill="#ebeff3"/>
<ellipse cx="1023.5" cy="112" rx="4.300000000000001" ry="13" fill="#ebeff3"/>
</g></g>
<ellipse cx="968" cy="64" rx="21.5" ry="20.0" fill="url(#ht5)"/>
<polygon points="813.6,118.5 816.2,125.5 813.8,132.5 811.4,125.5" fill="#ffffff" opacity="0.9"/>
<g fill="#f6f8fb" filter="url(#bl1)">
<ellipse cx="829" cy="98" rx="3" ry="10" transform="rotate(-20 829 98)"/>
<ellipse cx="840" cy="143" rx="3" ry="8" transform="rotate(-25 840 143)"/>
<ellipse cx="882" cy="96" rx="3" ry="9" transform="rotate(-20 882 96)"/>
<ellipse cx="893" cy="143" rx="3" ry="8" transform="rotate(-25 893 143)"/>
<ellipse cx="936" cy="91" rx="3" ry="9" transform="rotate(-20 936 91)"/>
<ellipse cx="946" cy="140" rx="3" ry="8" transform="rotate(-25 946 140)"/>
<ellipse cx="989" cy="85" rx="3" ry="8" transform="rotate(-30 989 85)"/>
</g>
<!--/SPF-->
</g>
</svg>
</body></html>
